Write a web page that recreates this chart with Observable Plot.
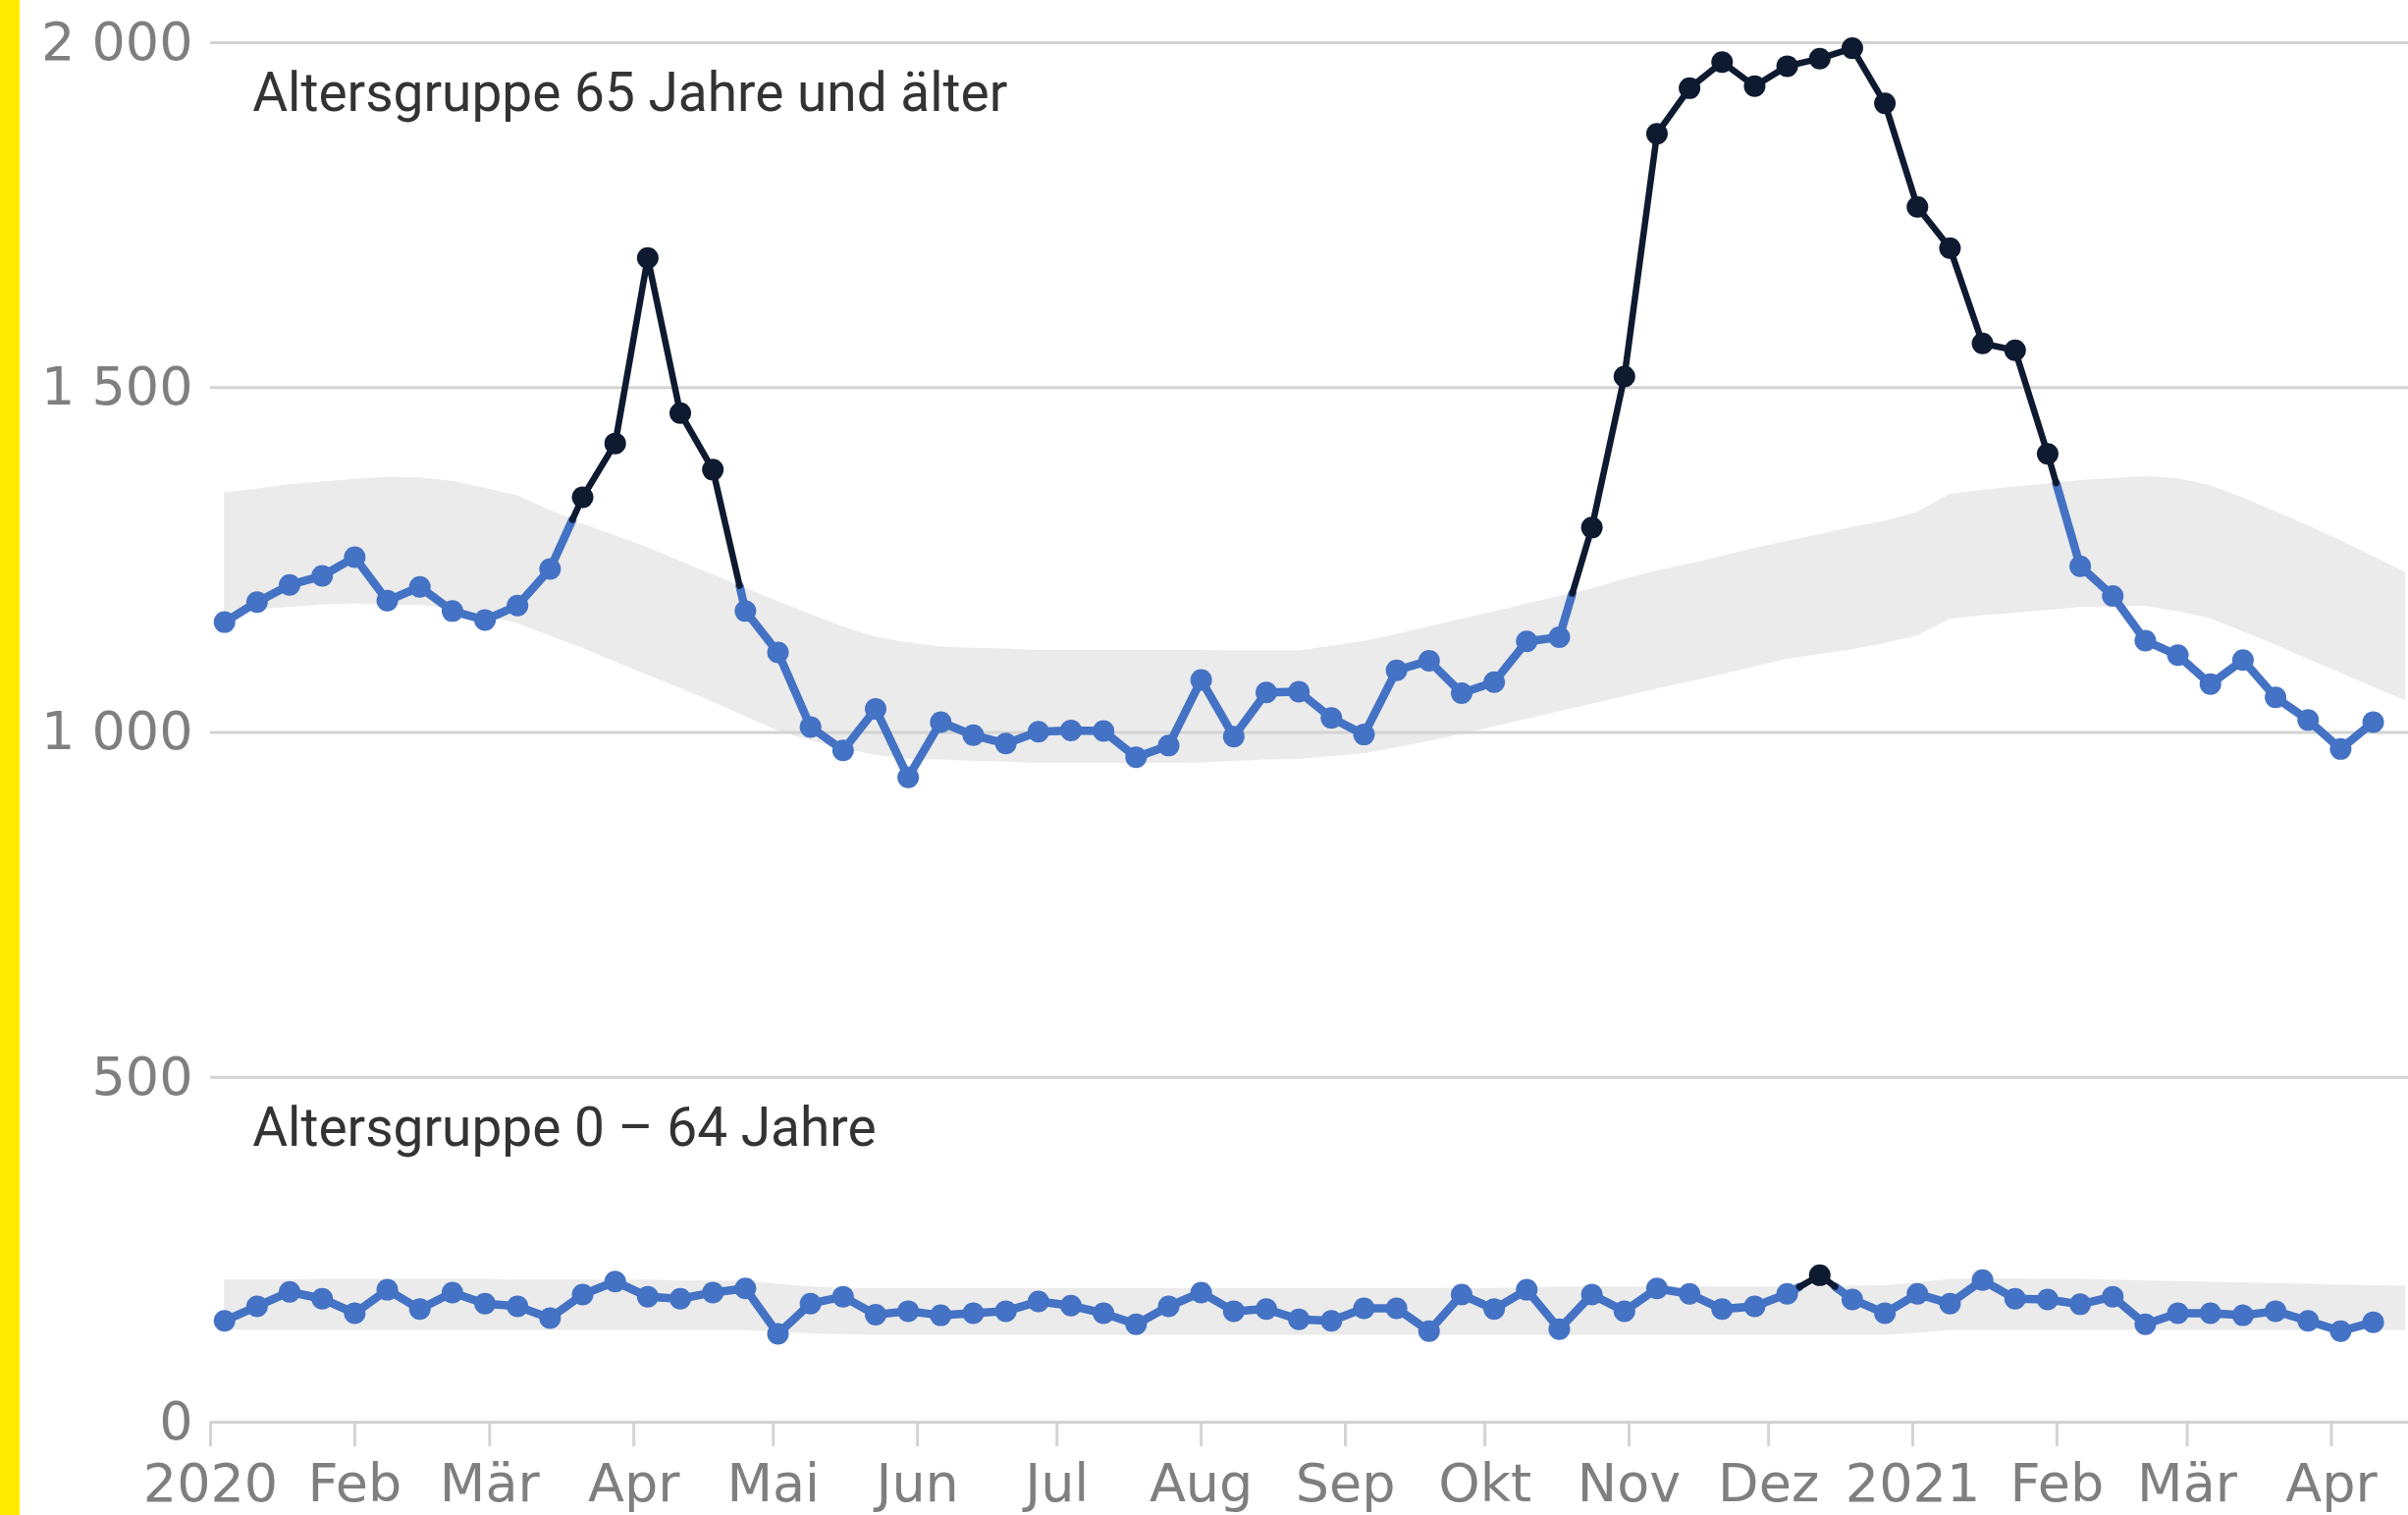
<!DOCTYPE html>
<html>
<head>
<meta charset="utf-8">
<script src="https://cdn.jsdelivr.net/npm/d3@7"></script>
<script src="https://cdn.jsdelivr.net/npm/@observablehq/plot@0.6"></script>
<style>
  html, body { margin: 0; padding: 0; background: #ffffff; overflow: hidden; }
  #stripe { position: absolute; left: 0; top: 0; width: 20px; height: 1543px; background: #ffea00; z-index: 2; }
  #chart { position: absolute; left: 0; top: 0; }
</style>
</head>
<body>
<div id="stripe"></div>
<div id="chart"></div>
<script>
// ISO calendar weeks (data + one extra band week)
const weeks = [
  "2020-W01","2020-W02","2020-W03","2020-W04","2020-W05","2020-W06","2020-W07","2020-W08","2020-W09","2020-W10",
  "2020-W11","2020-W12","2020-W13","2020-W14","2020-W15","2020-W16","2020-W17","2020-W18","2020-W19","2020-W20",
  "2020-W21","2020-W22","2020-W23","2020-W24","2020-W25","2020-W26","2020-W27","2020-W28","2020-W29","2020-W30",
  "2020-W31","2020-W32","2020-W33","2020-W34","2020-W35","2020-W36","2020-W37","2020-W38","2020-W39","2020-W40",
  "2020-W41","2020-W42","2020-W43","2020-W44","2020-W45","2020-W46","2020-W47","2020-W48","2020-W49","2020-W50",
  "2020-W51","2020-W52","2020-W53","2021-W01","2021-W02","2021-W03","2021-W04","2021-W05","2021-W06","2021-W07",
  "2021-W08","2021-W09","2021-W10","2021-W11","2021-W12","2021-W13","2021-W14","2021-W15"
];

// Weekly deaths, age group 65+
const deaths65 = [
  1160,1189,1214,1227,1254,1191,1211,1176,1163,1184,
  1237,1341,1419,1688,1463,1381,1176,1116,1008,974,
  1034,935,1015,996,984,1001,1003,1002,964,981,
  1076,994,1058,1059,1021,997,1090,1104,1057,1073,
  1132,1138,1297,1516,1868,1934,1972,1937,1966,1977,
  1992,1912,1762,1702,1564,1554,1404,1241,1198,1133,
  1112,1070,1105,1051,1018,976,1015
];
// Weekly deaths, age group 0-64
const deaths064 = [
  147,168,189,179,158,192,164,188,172,168,
  151,185,204,182,179,188,194,128,172,182,
  156,161,155,158,161,175,169,158,142,168,
  188,161,164,149,147,165,165,132,185,164,
  192,135,185,161,194,186,164,168,186,213,
  178,158,186,172,206,179,178,171,182,142,
  158,158,155,161,147,132,145
];
// Expected range (band), age group 65+
const upper65 = [
  1347,1353,1359,1363,1367,1370,1369,1364,1354,1343,
  1322,1302,1285,1268,1248,1229,1209,1190,1171,1153,
  1138,1130,1124,1122,1121,1119,1119,1119,1119,1119,
  1119,1118,1118,1118,1125,1132,1142,1153,1164,1175,
  1186,1197,1208,1222,1234,1244,1255,1267,1277,1287,
  1297,1306,1319,1345,1351,1356,1360,1365,1368,1371,
  1368,1358,1340,1320,1300,1278,1255,1232
];
const lower65 = [
  1174,1178,1181,1185,1186,1185,1184,1180,1169,1158,
  1140,1122,1102,1083,1064,1044,1023,1002,988,976,
  967,961,960,958,957,955,955,955,955,955,
  956,958,960,961,965,969,978,987,997,1008,
  1019,1030,1041,1052,1063,1073,1084,1095,1106,1113,
  1120,1129,1140,1164,1169,1173,1177,1181,1182,1183,
  1175,1165,1146,1127,1106,1086,1066,1046
];
// Expected range (band), age group 0-64
const upper064 = [
  206,206,206,207,207,207,207,207,207,206,
  206,206,206,206,205,205,204,200,196,194,
  194,194,194,194,194,194,194,194,194,194,
  194,194,194,194,194,194,194,194,194,194,
  195,196,196,196,196,196,196,196,196,196,
  197,198,202,207,208,208,207,207,206,205,
  204,203,202,201,200,199,198,197
];
const lower064 = [
  133,133,133,133,133,133,133,133,133,133,
  133,133,133,133,133,133,133,130,128,127,
  126,126,126,126,126,126,126,126,126,126,
  126,126,126,126,126,126,126,126,126,126,
  126,126,126,126,126,126,126,126,126,126,
  126,126,129,133,133,133,133,133,133,133,
  133,133,133,133,133,133,133,133
];

const monthNames = ["Jan","Feb","Mär","Apr","Mai","Jun","Jul","Aug","Sep","Okt","Nov","Dez"];
const yTicks = [0, 500, 1000, 1500, 2000];
const labels = ["Altersgruppe 65 Jahre und älter", "Altersgruppe 0 – 64 Jahre"];
const labelDates = ["2020-01-10", "2020-01-10"];
const labelValues = [1926, 426];

const BLUE = "#4472c4";
const DARK = "#0e1a30";
const BAND = "#ebebeb";
const GRID = "#d3d3d3";

function weekDate(label) {
  const [y, w] = label.split("-W").map(Number);
  const jan4 = Date.UTC(y, 0, 4);
  const dow = (new Date(jan4).getUTCDay() + 6) % 7;
  const monday = jan4 - dow * 864e5;
  return new Date(monday + ((w - 1) * 7 + 5) * 864e5);
}
const dates = weeks.map(weekDate);

function bandRows(lo, hi) {
  return lo.map((l, i) => ({date: dates[i], lo: l, hi: hi[i]}));
}

// split the series into runs: above the expected range (dark) / inside-below (blue)
function runs(values, upper, prefix) {
  const rows = [];
  let run = 0;
  let above = values[0] > upper[0];
  rows.push({run: prefix + run, date: dates[0], v: values[0], above});
  for (let i = 1; i < values.length; i++) {
    const b = values[i] > upper[i];
    if (b !== above) {
      const da = values[i - 1] - upper[i - 1], db = values[i] - upper[i];
      const t = da / (da - db);
      const cx = new Date(+dates[i - 1] + t * (dates[i] - dates[i - 1]));
      const cy = values[i - 1] + t * (values[i] - values[i - 1]);
      rows.push({run: prefix + run, date: cx, v: cy, above});
      run++;
      above = b;
      rows.push({run: prefix + run, date: cx, v: cy, above});
    }
    rows.push({run: prefix + run, date: dates[i], v: values[i], above});
  }
  return rows;
}
function points(values, upper) {
  return values.map((v, i) => ({date: dates[i], v, above: v > upper[i]}));
}

const lineRows = runs(deaths65, upper65, "a").concat(runs(deaths064, upper064, "b"));
const pointRows = points(deaths65, upper65).concat(points(deaths064, upper064));
const labelRows = labels.map((t, i) => ({t, date: new Date(labelDates[i]), v: labelValues[i]}));

const xStart = new Date(Date.UTC(2020, 0, 1));
const xEnd = new Date(Date.UTC(2021, 3, 17, 14));
const tickDates = d3.utcMonths(xStart, new Date(Date.UTC(2021, 3, 2)));

const chart = Plot.plot({
  width: 2453,
  height: 1543,
  marginLeft: 214,
  marginRight: 0,
  marginTop: 43,
  marginBottom: 95,
  style: {background: "transparent", overflow: "visible", fontFamily: "DejaVu Sans"},
  x: {type: "utc", domain: [xStart, xEnd]},
  y: {domain: [0, 2000]},
  marks: [
    Plot.areaY(bandRows(lower65, upper65), {x: "date", y1: "lo", y2: "hi", fill: BAND}),
    Plot.areaY(bandRows(lower064, upper064), {x: "date", y1: "lo", y2: "hi", fill: BAND}),
    Plot.ruleY(yTicks, {stroke: GRID, strokeWidth: 3}),
    Plot.axisY({
      ticks: yTicks,
      tickFormat: d => d3.format(",")(d).replace(",", "\u00a0"),
      tickSize: 0, tickPadding: 18,
      fill: "#7f7f7f", fontSize: 54, fontFamily: "DejaVu Sans"
    }),
    Plot.axisX({
      ticks: tickDates,
      tickFormat: d => d.getUTCMonth() === 0 ? String(d.getUTCFullYear()) : monthNames[d.getUTCMonth()],
      tickSize: 25, tickPadding: 17,
      stroke: GRID, strokeWidth: 3,
      fill: "#7f7f7f", fontSize: 54, fontFamily: "DejaVu Sans"
    }),
    Plot.line(lineRows.filter(d => !d.above), {x: "date", y: "v", z: "run", stroke: BLUE, strokeWidth: 8.5}),
    Plot.line(lineRows.filter(d => d.above), {x: "date", y: "v", z: "run", stroke: DARK, strokeWidth: 6.5}),
    Plot.dot(pointRows.filter(d => !d.above), {x: "date", y: "v", r: 11, fill: BLUE}),
    Plot.dot(pointRows.filter(d => d.above), {x: "date", y: "v", r: 11, fill: DARK}),
    Plot.text(labelRows, {
      x: "date", y: "v", text: "t", textAnchor: "start", lineAnchor: "middle",
      fontSize: 55, fontFamily: "Roboto", fill: "#333333"
    })
  ]
});
document.getElementById("chart").appendChild(chart);
</script>
</body>
</html>
